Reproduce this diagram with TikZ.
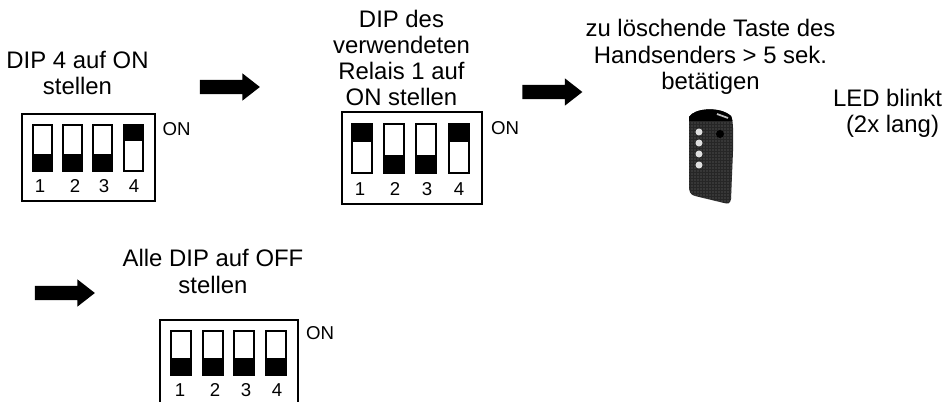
\documentclass[tikz,border=0pt]{standalone}
\usepackage{fontspec}
\setmainfont{Liberation Sans}
\usetikzlibrary{shapes.arrows}
\tikzset{
	steptext/.style={align=center,inner sep=0pt,font=\fontsize{6.8}{7.45}\selectfont},
	dipnum/.style={inner sep=0pt,font=\fontsize{5.3}{6}\selectfont},
	dipframe/.style={draw=black,line width=0.6pt},
	dipslot/.style={draw=black,line width=0.55pt},
	blockarrow/.style={single arrow,anchor=tip,fill=black,inner sep=0pt,inner ysep=0.065cm,minimum height=0.6cm,minimum width=0.26cm,single arrow head extend=0.065cm,single arrow head indent=0pt,single arrow tip angle=76},
}
\begin{document}
\begin{tikzpicture}
	\useasboundingbox (0,0) rectangle (9.47,4.01);
	\node[steptext] (txtA) at (0.775,3.28) {DIP 4 auf ON\\stellen};
	\node[steptext] (txtB) at (4.015,3.43) {DIP des\\verwendeten\\Relais 1 auf\\ON stellen};
	\node[steptext] (txtC) at (7.105,3.44) {zu löschende Taste des\\Handsenders > 5 sek.\\betätigen};
	\node[steptext] (txtD) at (8.875,2.875) {LED blinkt\\\hspace*{0.1cm}(2x lang)};
	\node[steptext] (txtE) at (2.13,1.295) {Alle DIP auf OFF\\stellen};
	
	\node[blockarrow] (arrA) at (2.61,3.14) {};
	\node[blockarrow] (arrB) at (5.835,3.09) {};
	\node[blockarrow] (arrC) at (0.96,1.08) {};
	
	%first dip box
	\draw[dipframe] (0.22,2.87) rectangle (1.55,2.00);
	\node[dipnum] (onA) at (1.765,2.72) {ON};
	\foreach \x/\a/\b/\t/\n in {0.33/2.30/2.47/0.40/1,0.63/2.30/2.47/0.75/2,0.93/2.30/2.47/1.04/3,1.24/2.60/2.76/1.34/4}{
		\fill (\x,\a) rectangle (\x+0.19,\b);
		\draw[dipslot] (\x,2.30) rectangle (\x+0.19,2.76);
		\node[dipnum] (numA\n) at (\t,2.15) {\n};
	}
	%second dip box
	\draw[dipframe] (3.42,2.89) rectangle (4.82,1.97);
	\node[dipnum] (onB) at (5.05,2.73) {ON};
	\foreach \x/\a/\b/\t/\n in {3.52/2.59/2.77/3.60/1,3.84/2.28/2.46/3.95/2,4.16/2.28/2.46/4.27/3,4.49/2.59/2.77/4.59/4}{
		\fill (\x,\a) rectangle (\x+0.20,\b);
		\draw[dipslot] (\x,2.28) rectangle (\x+0.20,2.77);
		\node[dipnum] (numB\n) at (\t,2.12) {\n};
	}
	%third dip box, cut off at the bottom
	\draw[dipframe] (1.60,-0.05) -- (1.60,0.81) -- (2.98,0.81) -- (2.98,-0.05);
	\node[dipnum] (onC) at (3.20,0.68) {ON};
	\foreach \x/\t/\n in {1.71/1.80/1,2.03/2.15/2,2.34/2.46/3,2.66/2.77/4}{
		\fill (\x,0.26) rectangle (\x+0.20,0.43);
		\draw[dipslot] (\x,0.26) rectangle (\x+0.20,0.70);
		\node[dipnum] (numC\n) at (\t,0.11) {\n};
	}
	
	%hand transmitter
	\begin{scope}
		\clip (6.89,2.84) .. controls (6.94,2.93) and (7.20,2.95) .. (7.31,2.85) .. controls (7.34,2.80) and (7.33,2.60) .. (7.33,2.50) -- (7.31,2.02) .. controls (7.30,1.97) and (7.28,1.97) .. (7.24,1.98) -- (6.95,2.05) .. controls (6.90,2.06) and (6.89,2.10) .. (6.89,2.15) -- cycle;
		\fill[black!85] (6.85,1.95) rectangle (7.35,2.95);
		\foreach \i in {0,...,14}
			\foreach \j in {0,...,32}
				\fill[black!55] (6.89+\i*0.03,1.97+\j*0.03) circle (0.006);
		\fill[black] (6.85,2.80) rectangle (7.35,2.95);
	\end{scope}
	\draw[black!25,line width=0.5pt] (7.17,2.87) -- (7.28,2.83);
	\fill[black] (7.20,2.67) circle (0.04);
	\foreach \y in {2.69,2.58,2.47,2.36}
		\fill[black!12] (6.99,\y) circle (0.035);
\end{tikzpicture}
\end{document}
